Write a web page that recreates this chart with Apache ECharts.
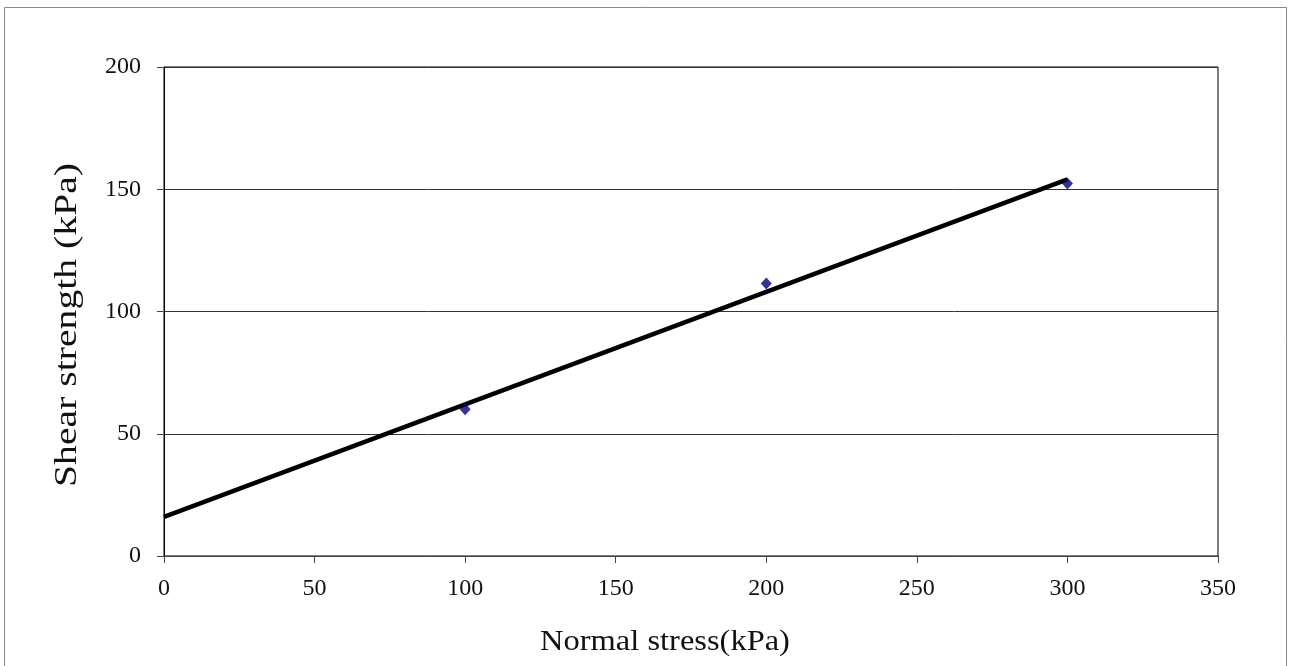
<!DOCTYPE html>
<html>
<head>
<meta charset="utf-8">
<script src="https://cdn.jsdelivr.net/npm/echarts@6/dist/echarts.min.js"></script>
<style>
html,body{margin:0;padding:0;background:#fff;}
#chart{width:1293px;height:666px;}
</style>
</head>
<body>
<div id="chart"></div>
<script>
// Data
const normalStress = [100, 200, 300];
const shearStrength = [60, 111.5, 152.4];
// Trendline endpoints (as drawn in reference)
const trendX = [0, 300];
const trendY = [16, 154];
const xTicks = [0, 50, 100, 150, 200, 250, 300, 350];
const yTicks = [0, 50, 100, 150, 200];
const xTitle = 'Normal stress(kPa)';
const yTitle = 'Shear strength (kPa)';

const font = '"Liberation Serif", "DejaVu Serif", serif';
const chart = echarts.init(document.getElementById('chart'), null, {renderer: 'canvas'});
chart.setOption({
  animation: false,
  backgroundColor: '#fff',
  grid: {left: 164, right: 75, top: 67, bottom: 110, show: true, borderColor: '#000', borderWidth: 1},
  xAxis: {
    type: 'value', min: xTicks[0], max: xTicks[xTicks.length - 1], interval: 50,
    axisLine: {show: true, onZero: false, lineStyle: {color: '#444', width: 1}},
    axisTick: {show: true, inside: false, length: 7, lineStyle: {color: '#444'}},
    axisLabel: {margin: 21, fontFamily: font, fontSize: 24, color: '#111'},
    splitLine: {show: false}
  },
  yAxis: {
    type: 'value', min: yTicks[0], max: yTicks[yTicks.length - 1], interval: 50,
    axisLine: {show: true, onZero: false, lineStyle: {color: '#000', width: 1}},
    axisTick: {show: true, inside: false, length: 7, lineStyle: {color: '#444'}},
    axisLabel: {margin: 23, fontFamily: font, fontSize: 24, color: '#111'},
    splitLine: {show: true, lineStyle: {color: '#333', width: 1}}
  },
  graphic: [
    {type: 'rect', shape: {x: 4.5, y: 7.5, width: 1282, height: 680}, style: {fill: 'none', stroke: '#888', lineWidth: 1}, silent: true},
    {type: 'text', x: 665, y: 642, scaleX: 1.12, style: {text: xTitle, font: '29px ' + font, fill: '#111', textAlign: 'center', textVerticalAlign: 'middle'}, silent: true},
    {type: 'text', rotation: Math.PI / 2, x: 68, y: 325, scaleX: 1.24, style: {text: yTitle, font: '32px ' + font, fill: '#111', textAlign: 'center', textVerticalAlign: 'middle'}, silent: true}
  ],
  series: [
    {
      type: 'line',
      data: trendX.map((x, i) => [x, trendY[i]]),
      symbol: 'none',
      lineStyle: {color: '#000', width: 4.5},
      z: 3
    },
    {
      type: 'scatter',
      data: normalStress.map((x, i) => [x, shearStrength[i]]),
      symbol: 'diamond',
      symbolSize: [11, 12],
      itemStyle: {color: '#000080'},
      z: 4
    }
  ]
});
</script>
</body>
</html>
